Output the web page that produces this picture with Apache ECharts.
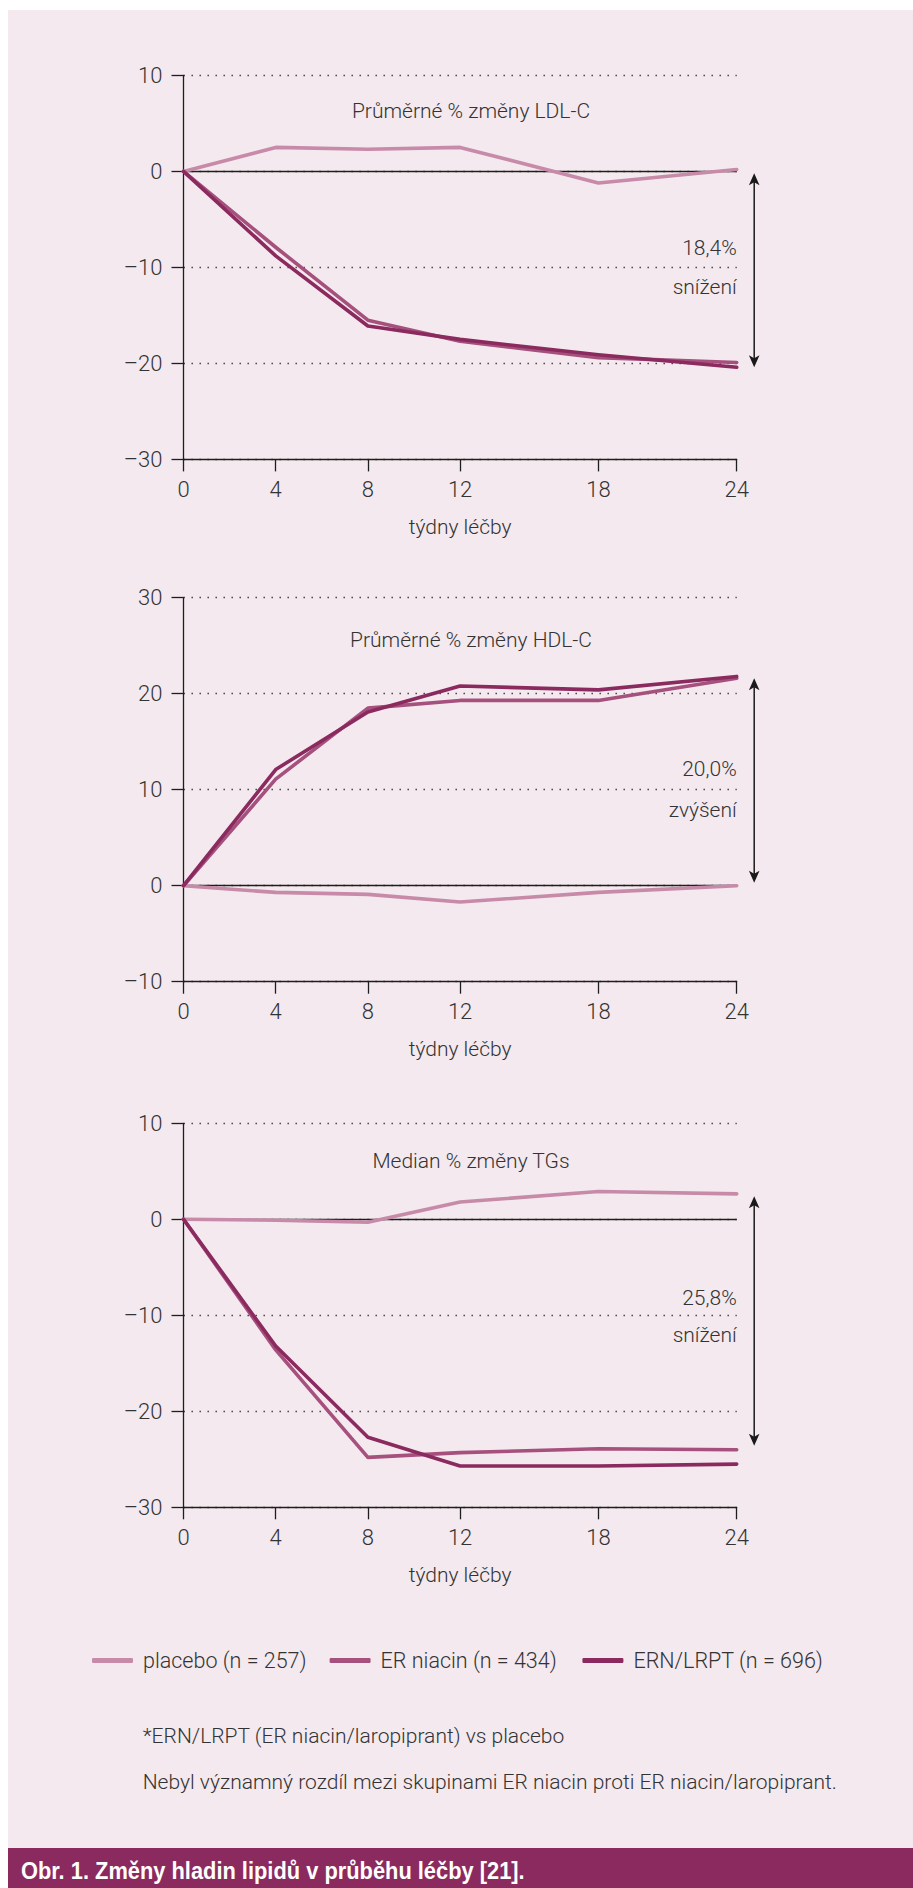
<!DOCTYPE html>
<html><head><meta charset="utf-8">
<script src="https://cdn.jsdelivr.net/npm/echarts@6/dist/echarts.min.js"></script>
<style>
html,body{margin:0;padding:0;background:#ffffff;}
#wrap{position:relative;width:913px;height:1888px;overflow:hidden;}
#panel{position:absolute;left:8px;top:10px;width:905px;height:1838px;background:#f4e9ee;}
#c{position:absolute;left:0;top:0;width:913px;height:1888px;}
</style>
</head><body>
<div id="wrap"><div id="panel"></div><div id="c"></div></div>
<script>
// ---- data ----
const weeks = [0, 4, 8, 12, 18, 24];
const weekTicks = [0, 4, 8, 12, 18, 24];
const seriesNames = ['placebo (n = 257)', 'ER niacin (n = 434)', 'ERN/LRPT (n = 696)'];
const ldlPlacebo = [0, 2.5, 2.3, 2.5, -1.2, 0.2];
const ldlNiacin = [0, -7.9, -15.5, -17.7, -19.4, -19.9];
const ldlErnLrpt = [0, -8.8, -16.1, -17.5, -19.1, -20.4];
const hdlPlacebo = [0, -0.7, -0.9, -1.7, -0.7, 0];
const hdlNiacin = [0, 11.1, 18.5, 19.3, 19.3, 21.6];
const hdlErnLrpt = [0, 12.1, 18.1, 20.8, 20.4, 21.8];
const tgPlacebo = [0, -0.1, -0.3, 1.8, 2.9, 2.65];
const tgNiacin = [0, -13.6, -24.8, -24.3, -23.9, -24.0];
const tgErnLrpt = [0, -13.2, -22.7, -25.7, -25.7, -25.5];
const panelTitles = ['Průměrné % změny LDL-C', 'Průměrné % změny HDL-C', 'Median % změny TGs'];
const yMin = [-30, -10, -30];
const yMax = [10, 30, 10];
const diffValues = ['18,4%', '20,0%', '25,8%'];
const diffWords = ['snížení', 'zvýšení', 'snížení'];
const arrowFrom = [-0.2, 21.6, 2.4];
const arrowTo = [-20.4, 0.3, -23.6];
const xAxisName = 'týdny léčby';
const footnotes = ['*ERN/LRPT (ER niacin/laropiprant) vs placebo',
  'Nebyl významný rozdíl mezi skupinami ER niacin proti ER niacin/laropiprant.'];
const caption = 'Obr. 1. Změny hladin lipidů v průběhu léčby [21].';

// ---- layout / style ----
const panelData = [[ldlPlacebo, ldlNiacin, ldlErnLrpt], [hdlPlacebo, hdlNiacin, hdlErnLrpt], [tgPlacebo, tgNiacin, tgErnLrpt]];
const colors = ['#c78ba9', '#a5507d', '#8b2a5e'];
const gridTops = [75.4, 597.7, 1123.3];
const gridLeft = 183.5, gridWidth = 553.2, gridHeight = 384;
const titleY = [110.7, 640, 1161];
const titleX = 471;
const diffLabelOffsets = [[-8.0, -12.0], [12.2, 7.9], [-8.2, -12.1]];
const legendLefts = [92, 329.6, 582.4];
const FONT = 'Roboto';
const TXT = '#333333';
const AX = '#1e1e1e';

const chart = echarts.init(document.getElementById('c'), null, {renderer: 'svg'});

const grids = [], xAxes = [], yAxes = [], series = [];
for (let p = 0; p < 3; p++) {
  grids.push({left: gridLeft, top: gridTops[p], width: gridWidth, height: gridHeight, containLabel: false});
  xAxes.push({
    type: 'value', gridIndex: p, min: 0, max: 24,
    axisLine: {show: true, onZero: false, lineStyle: {color: AX, width: 1.3}},
    axisTick: {show: true, length: 12, customValues: weekTicks, lineStyle: {color: AX, width: 1.3}},
    axisLabel: {customValues: weekTicks, margin: 19, fontFamily: FONT, fontWeight: 300, fontSize: 22, color: TXT},
    splitLine: {show: false},
    name: xAxisName, nameLocation: 'middle', nameGap: 57,
    nameTextStyle: {fontFamily: FONT, fontWeight: 300, fontSize: 21, color: TXT}
  });
  yAxes.push({
    type: 'value', gridIndex: p, min: yMin[p], max: yMax[p], interval: 10,
    axisLine: {show: true, onZero: false, lineStyle: {color: AX, width: 1.3}},
    axisTick: {show: true, length: 12, lineStyle: {color: AX, width: 1.3}},
    axisLabel: {margin: 21, fontFamily: FONT, fontWeight: 300, fontSize: 22, color: TXT,
      formatter: v => String(v).replace('-', '\u2013')},
    splitLine: {show: true, lineStyle: {color: '#3a3a3a', width: 1.4, type: [1.4, 6.6]}}
  });
  for (let s = 0; s < 3; s++) {
    const ser = {
      type: 'line', name: seriesNames[s], xAxisIndex: p, yAxisIndex: p,
      data: weeks.map((w, j) => [w, panelData[p][s][j]]),
      symbol: 'none', showSymbol: false, smooth: false, z: 3 + s,
      lineStyle: {color: colors[s], width: 3.6, cap: 'round', join: 'round'},
      itemStyle: {color: colors[s]},
      emphasis: {disabled: true}
    };
    if (s === 0) {
      ser.markLine = {
        silent: true, symbol: ['none', 'none'], label: {show: false}, z: 1,
        lineStyle: {color: AX, width: 1.3, type: 'solid'},
        emphasis: {disabled: true},
        data: [{yAxis: 0}]
      };
    }
    series.push(ser);
  }
}

const legends = seriesNames.map((n, i) => ({
  data: [n], left: legendLefts[i], top: 1648.5, padding: 0,
  itemWidth: 41, itemHeight: 5, icon: 'roundRect', selectedMode: false,
  textStyle: {fontFamily: FONT, fontWeight: 300, fontSize: 21.5, lineHeight: 24, color: TXT, padding: [0, 0, 0, 5]}
}));

chart.setOption({
  backgroundColor: 'transparent',
  animation: false,
  grid: grids, xAxis: xAxes, yAxis: yAxes, series: series,
  legend: legends
});

// annotations derived from axes
const g = [];
for (let p = 0; p < 3; p++) {
  const px24 = chart.convertToPixel({gridIndex: p}, [24, 0])[0];
  const yPix = v => chart.convertToPixel({gridIndex: p}, [0, v])[1];
  g.push({type: 'text', x: titleX, y: titleY[p], style: {text: panelTitles[p], fontFamily: FONT, fontWeight: 300, fontSize: 21, fill: TXT, align: 'center', verticalAlign: 'middle'}});
  g.push({type: 'text', x: px24, y: yPix(diffLabelOffsets[p][0]), style: {text: diffValues[p], fontFamily: FONT, fontWeight: 300, fontSize: 21, fill: TXT, align: 'right', verticalAlign: 'middle'}});
  g.push({type: 'text', x: px24, y: yPix(diffLabelOffsets[p][1]), style: {text: diffWords[p], fontFamily: FONT, fontWeight: 300, fontSize: 21, fill: TXT, align: 'right', verticalAlign: 'middle'}});
  const ax = px24 + 17.5;
  const y1 = yPix(arrowFrom[p]), y2 = yPix(arrowTo[p]);
  const top = Math.min(y1, y2), bot = Math.max(y1, y2);
  g.push({type: 'line', shape: {x1: ax, y1: top + 6, x2: ax, y2: bot - 6}, style: {stroke: '#1a1a1a', lineWidth: 1.5}});
  g.push({type: 'polygon', shape: {points: [[ax, top], [ax + 5.3, top + 12], [ax, top + 9], [ax - 5.3, top + 12]]}, style: {fill: '#1a1a1a'}});
  g.push({type: 'polygon', shape: {points: [[ax, bot], [ax + 5.3, bot - 12], [ax, bot - 9], [ax - 5.3, bot - 12]]}, style: {fill: '#1a1a1a'}});
}
g.push({type: 'text', x: 142.7, y: 1736, style: {text: footnotes[0], fontFamily: FONT, fontWeight: 300, fontSize: 21, fill: TXT, align: 'left', verticalAlign: 'middle'}});
g.push({type: 'text', x: 142.7, y: 1782, style: {text: footnotes[1], fontFamily: FONT, fontWeight: 300, fontSize: 21, fill: TXT, align: 'left', verticalAlign: 'middle'}});
g.push({type: 'rect', shape: {x: 8, y: 1848, width: 905, height: 40}, style: {fill: '#8b2a5e'}});
g.push({type: 'text', x: 20, y: 1871, scaleX: 0.95, originX: 20, originY: 1871,
  style: {text: caption, fontFamily: '"Liberation Sans", Arial', fontWeight: 'bold', fontSize: 23, fill: '#ffffff', align: 'left', verticalAlign: 'middle'}});
chart.setOption({graphic: {elements: g}});
</script>
</body></html>
